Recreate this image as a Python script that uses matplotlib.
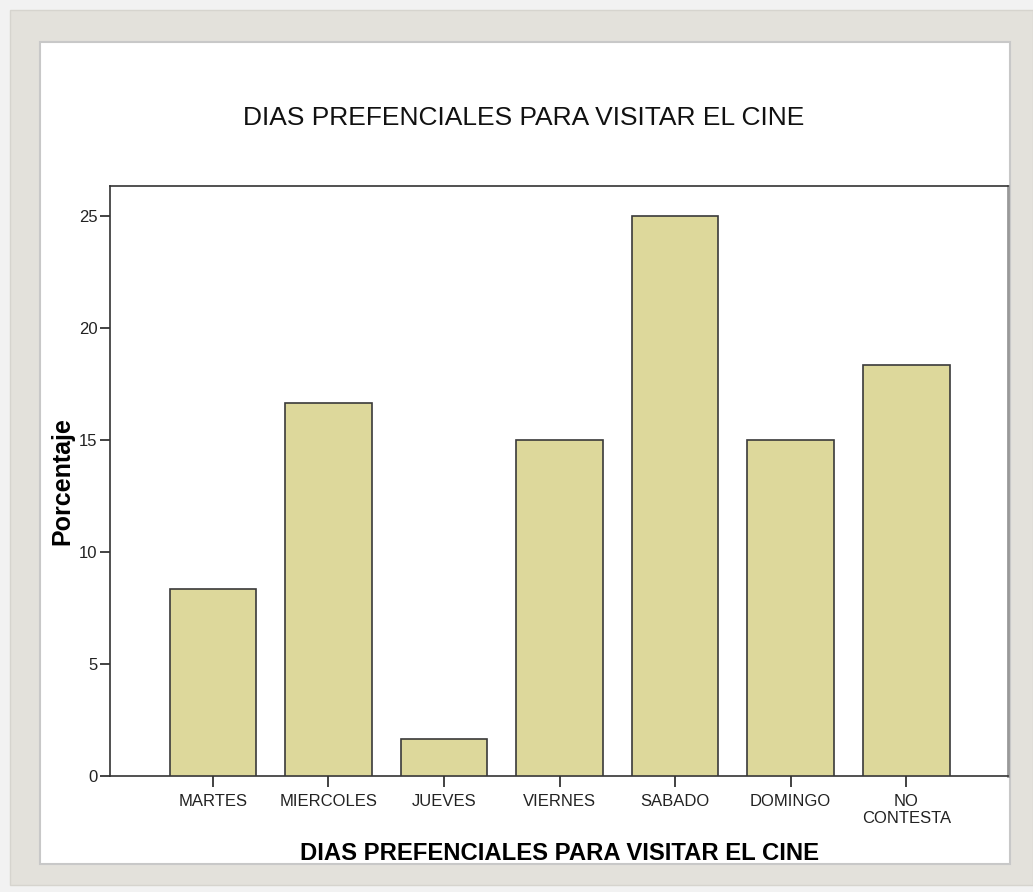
import matplotlib.pyplot as plt
from matplotlib.patches import Rectangle

plt.rcParams['font.family'] = ['Liberation Sans', 'DejaVu Sans']

dias = ['MARTES', 'MIERCOLES', 'JUEVES', 'VIERNES', 'SABADO', 'DOMINGO', 'NO\nCONTESTA']
porcentaje = [8.33, 16.67, 1.67, 15.0, 25.0, 15.0, 18.33]
yticks = [0, 5, 10, 15, 20, 25]

W, H = 1033, 892
fig = plt.figure(figsize=(W / 100, H / 100), dpi=100)
fig.patch.set_facecolor('#f2f2f2')

# marco gris y panel blanco (por debajo de los ejes)
fig.patches.append(Rectangle((10 / W, 1 - 885 / H), 1 - 10 / W, 875 / H,
                             transform=fig.transFigure, facecolor='#e3e1db',
                             edgecolor='#d6d4ce', lw=1, zorder=-2))
fig.patches.append(Rectangle((40 / W, 1 - 864 / H), 970 / W, 822 / H,
                             transform=fig.transFigure, facecolor='white',
                             edgecolor='#c8c8c8', lw=1.5, zorder=-1))

ax = fig.add_axes([110 / W, 1 - 776 / H, 898 / W, 590 / H])
ax.set_facecolor('white')
x = range(len(dias))
ax.bar(x, porcentaje, width=0.75, color='#ddd89b', edgecolor='#3a3a3a', linewidth=1.2, zorder=3)

ax.set_xlim(-0.89, 6.88)
ax.set_ylim(0, 26.34)
ax.set_yticks(yticks)
ax.set_xticks(list(x))
ax.set_xticklabels(dias, fontsize=12, color='#222222', linespacing=1.2)
ax.set_yticklabels([str(v) for v in yticks], fontsize=12, color='#333333')
ax.tick_params(axis='y', length=7, width=1.2, colors='#222222', pad=2)
ax.tick_params(axis='x', length=8, width=1.2, colors='#222222', pad=5)
for s in ['left', 'bottom', 'top']:
    ax.spines[s].set_color('#333333')
    ax.spines[s].set_linewidth(1.2)
ax.spines['right'].set_color('#999999')
ax.spines['right'].set_linewidth(2)

ax.set_ylabel('Porcentaje', fontsize=18, fontweight='bold')
ax.yaxis.set_label_coords(-36 / 898, 0.5)
ax.set_xlabel('DIAS PREFENCIALES PARA VISITAR EL CINE', fontsize=17.2, fontweight='bold')
ax.xaxis.set_label_coords(0.5, -(842 - 776) / 590)

fig.text(524 / W, 1 - 118 / H, 'DIAS PREFENCIALES PARA VISITAR EL CINE',
         ha='center', va='center', fontsize=19, color='#111111')

fig.savefig('out.png', dpi=100)
